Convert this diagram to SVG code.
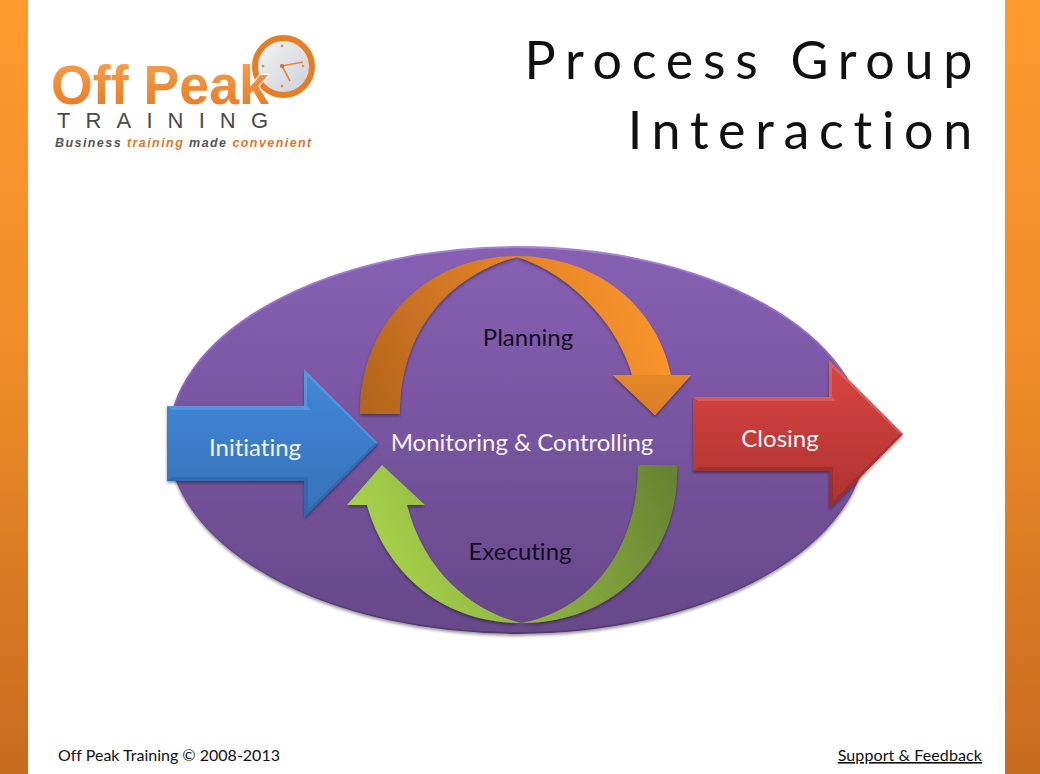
<svg xmlns="http://www.w3.org/2000/svg" width="1040" height="774" viewBox="0 0 1040 774">
<defs>
<linearGradient id="side" x1="0" y1="0" x2="0" y2="1"><stop offset="0" stop-color="#ff9a2e"/><stop offset="0.45" stop-color="#f08c2a"/><stop offset="1" stop-color="#c66c1f"/></linearGradient>
<linearGradient id="purple" x1="0" y1="0" x2="0" y2="1"><stop offset="0" stop-color="#8760b4"/><stop offset="1" stop-color="#674889"/></linearGradient>
<linearGradient id="rim" x1="0" y1="0" x2="0" y2="1"><stop offset="0" stop-color="#a583d1"/><stop offset="0.5" stop-color="#7a58a6"/><stop offset="1" stop-color="#523a70"/></linearGradient>
<linearGradient id="plan" gradientUnits="userSpaceOnUse" x1="360" y1="414" x2="680" y2="300"><stop offset="0" stop-color="#b2641d"/><stop offset="0.5" stop-color="#dd8025"/><stop offset="1" stop-color="#ff982b"/></linearGradient>
<linearGradient id="planHead" gradientUnits="userSpaceOnUse" x1="650" y1="320" x2="650" y2="415"><stop offset="0" stop-color="#fb9429"/><stop offset="1" stop-color="#d87e25"/></linearGradient>
<linearGradient id="exec" gradientUnits="userSpaceOnUse" x1="390" y1="590" x2="670" y2="470"><stop offset="0" stop-color="#a6d24a"/><stop offset="0.45" stop-color="#8cb040"/><stop offset="1" stop-color="#668431"/></linearGradient>
<linearGradient id="blue" x1="0" y1="0" x2="0" y2="1"><stop offset="0" stop-color="#4189d8"/><stop offset="1" stop-color="#3571b8"/></linearGradient>
<linearGradient id="red" x1="0" y1="0" x2="0" y2="1"><stop offset="0" stop-color="#da4541"/><stop offset="1" stop-color="#ac3230"/></linearGradient>
<linearGradient id="face" x1="0" y1="0" x2="1" y2="1"><stop offset="0" stop-color="#f6f6f6"/><stop offset="1" stop-color="#c9cdd6"/></linearGradient>
<linearGradient id="logoOrange" x1="0" y1="0" x2="0" y2="1"><stop offset="0" stop-color="#f8a452"/><stop offset="1" stop-color="#e8761f"/></linearGradient>
<filter id="sh" x="-10%" y="-10%" width="120%" height="125%"><feDropShadow dx="0" dy="2" stdDeviation="1.5" flood-color="#000" flood-opacity="0.4"/></filter>
</defs>
<style>
text{font-family:"Lato","Open Sans","Liberation Sans",sans-serif;font-variant-ligatures:none}
.title{font-size:52px;letter-spacing:9.7px;fill:#111;text-anchor:end}
.w{font-size:24px;fill:#f4f2f8;text-anchor:middle}
.k{font-size:24px;fill:#140c22;text-anchor:middle}
.foot{font-size:16px;fill:#111}
.tag{font-family:"Liberation Sans",Arial,sans-serif;font-size:12.5px;font-weight:700;font-style:italic;letter-spacing:1.43px}
</style>
<rect width="1040" height="774" fill="#fff"/>
<rect id="bar-left" x="0" y="0" width="28" height="774" fill="url(#side)"/>
<rect id="bar-right" x="1005" y="0" width="35" height="774" fill="url(#side)"/>
<g id="logo">
<circle cx="283.5" cy="66.5" r="28.5" fill="url(#face)" stroke="#e67e26" stroke-width="6"/>
<g fill="#e8843a"><circle cx="282" cy="46" r="1.3"/><circle cx="303" cy="66" r="1.3"/><circle cx="282" cy="86" r="1.3"/><circle cx="263" cy="66" r="1.3"/></g>
<path d="M282 66L303 62M282 66L290 81" stroke="#e8843a" stroke-width="1.6" fill="none"/>
<circle cx="282" cy="66" r="2" fill="#d9692a"/>
<text x="51" y="104" font-size="56" font-weight="700" fill="url(#logoOrange)" stroke="#fff" stroke-width="2" paint-order="stroke" style="font-family:'Liberation Sans',Arial,sans-serif" textLength="218" lengthAdjust="spacingAndGlyphs">Off Peak</text>
<text x="57" y="128" font-size="22" fill="#4a4a4a" textLength="211" style="font-family:'Liberation Sans',Arial,sans-serif">TRAINING</text>
<text x="55" y="147" class="tag" fill="#555">Business <tspan fill="#e0752a">training</tspan> made <tspan fill="#e0752a">convenient</tspan></text>
</g>
<g id="title">
<text x="982" y="79" class="title">Process Group</text>
<text x="982" y="149" class="title">Interaction</text>
</g>
<g id="monitoring-controlling">
<ellipse cx="517" cy="440" rx="348" ry="193" fill="url(#purple)" stroke="url(#rim)" stroke-width="1.8" filter="url(#sh)"/>
<text x="522" y="451" class="w">Monitoring &amp; Controlling</text>
</g>
<g id="planning">
<path d="M360 414C360 320 430 256 516 256C600 256 658 310 671 375H691L655 415L613 375H632C620 330 575 275 517 257C450 275 400 330 400 414Z" fill="url(#plan)" filter="url(#sh)"/>
<path d="M671 375H691L655 415L613 375H632Z" fill="url(#planHead)"/>
<text x="528" y="346" class="k">Planning</text>
</g>
<g id="executing">
<path d="M677 465C680 555 615 623 521 623C440 623 385 570 367 505H347L382 465L425 505H407C425 575 475 612 521 623C585 612 638 555 638 465Z" fill="url(#exec)" filter="url(#sh)"/>
<text x="520" y="560" class="k">Executing</text>
</g>
<g id="initiating">
<path d="M167 406H304V369L378 443L304 518V481H167Z" fill="url(#blue)" filter="url(#sh)"/>
<path d="M167 406H304V369L378 443L375 443L307 376V406L311 410H172Z" fill="#6fa8e6" opacity="0.45"/>
<path d="M167 481H304V518L378 443L375 443L308 510V477H172Z" fill="#245a99" opacity="0.4"/>
<text x="255" y="456" class="w">Initiating</text>
</g>
<g id="closing">
<path d="M693 397H829V360L903 434L829 509V471H693Z" fill="url(#red)" filter="url(#sh)"/>
<path d="M693 397H829V360L903 434L900 434L832 367V397L836 401H698Z" fill="#ee7a74" opacity="0.45"/>
<path d="M693 471H829V509L903 434L900 434L833 501V467H698Z" fill="#7f2422" opacity="0.4"/>
<text x="780" y="447" class="w">Closing</text>
</g>
<g id="footer">
<text x="58" y="761" class="foot">Off Peak Training © 2008-2013</text>
<text x="982" y="761" class="foot" text-anchor="end" text-decoration="underline" style="letter-spacing:.1px">Support &amp; Feedback</text>
</g>
</svg>
